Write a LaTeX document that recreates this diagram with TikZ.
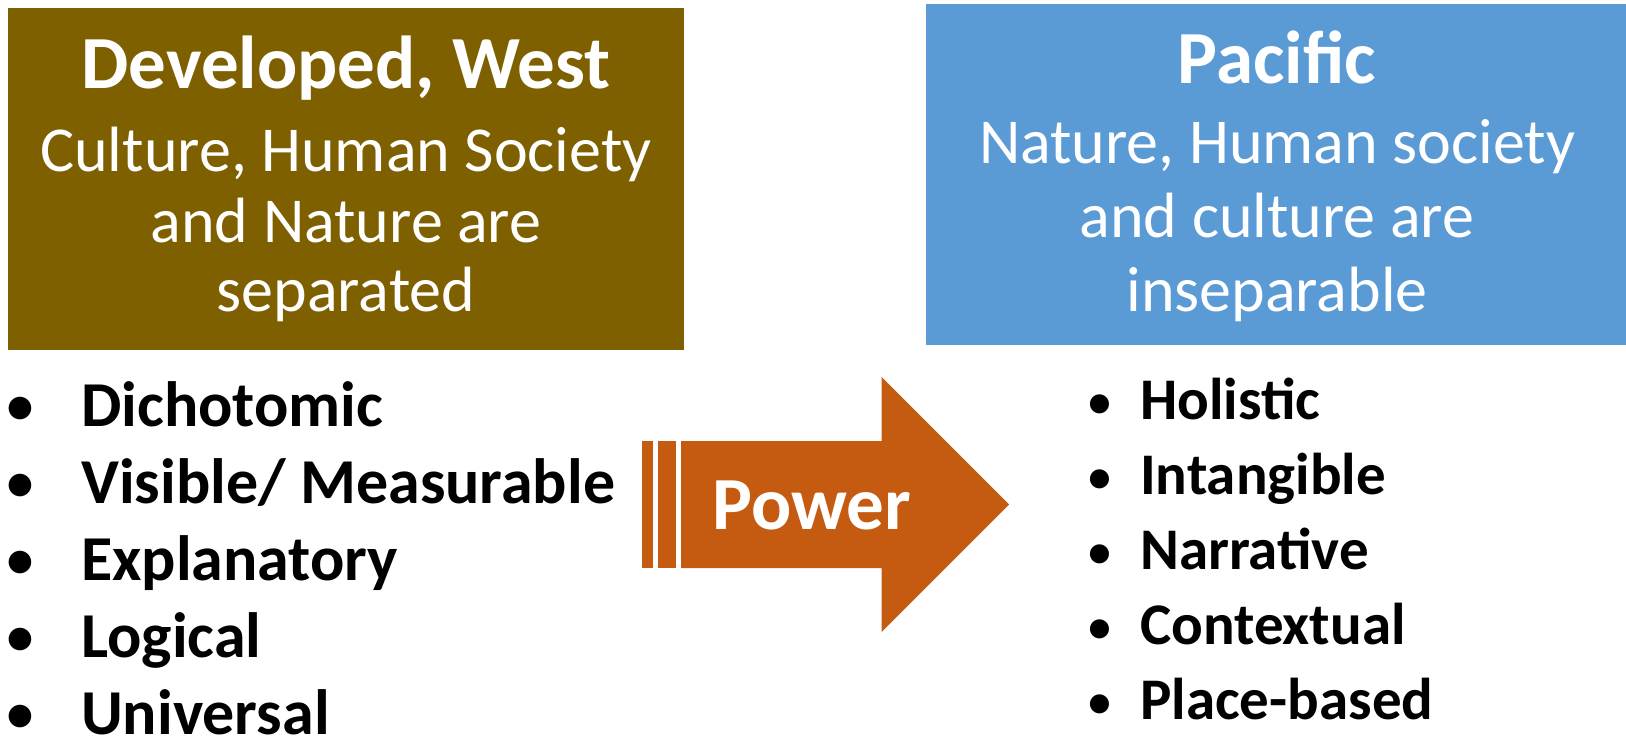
\documentclass[tikz,border=0pt]{standalone}
\usepackage{fontspec}
\setmainfont{Carlito}
\definecolor{brownbox}{HTML}{7F6000}
\definecolor{bluebox}{HTML}{5B9BD5}
\definecolor{arroworange}{HTML}{C55A11}
\tikzset{
  boxtitle/.style={anchor=base, inner sep=0pt, text=white, font=\fontsize{75}{86}\selectfont\bfseries},
  boxsub/.style={anchor=base, inner sep=0pt, text=white, font=\fontsize{64}{70}\selectfont},
  litem/.style={anchor=base west, inner sep=0pt, font=\fontsize{64}{76}\selectfont\bfseries},
  ritem/.style={anchor=base west, inner sep=0pt, font=\fontsize{59}{66}\selectfont\bfseries},
  lbul/.style={anchor=base, inner sep=0pt, font=\fontsize{64}{76}\selectfont},
  rbul/.style={anchor=base, inner sep=0pt, font=\fontsize{54}{66}\selectfont},
  panel/.style={anchor=north west, inner sep=0pt, draw=none},
}
\begin{document}
\begin{tikzpicture}[x=1pt,y=-1pt]
\useasboundingbox (0,0) rectangle (1626,739);
\fill[white] (0,0) rectangle (1626,739);
% boxes
\node[panel, fill=brownbox, minimum width=676pt, minimum height=342pt] (west) at (8,8) {};
\node[panel, fill=bluebox, minimum width=700pt, minimum height=341pt] (pacific) at (926,4) {};
% left box text
\node[boxtitle] (wt) at (346,88) {Developed, West};
\node[boxsub] (w1) at (346,171) {Culture, Human Society};
\node[boxsub] (w2) at (346,242) {and Nature are};
\node[boxsub] (w3) at (346,311) {separated};
% right box text
\node[boxtitle] (pt) at (1277,83) {Pacific};
\node[boxsub] (p1) at (1277,163) {Nature, Human society};
\node[boxsub] (p2) at (1277,237) {and culture are};
\node[boxsub] (p3) at (1277,311) {inseparable};
% arrow
\fill[arroworange] (642,441) rectangle (652.5,568);
\fill[arroworange] (657.5,441) rectangle (676,568);
\fill[arroworange] (681,441) -- (881.5,441) -- (881.5,377) -- (1009,504.5)
  -- (881.5,632) -- (881.5,568) -- (681,568) -- cycle;
\node[anchor=base, inner sep=0pt, text=white, font=\fontsize{75}{86}\selectfont\bfseries] (power) at (812,529) {Power};
% left list
\foreach \n/\t/\y in {l1/{Dichotomic}/426, l2/{Visible/ Measurable}/503, l3/{Explanatory}/580, l4/{Logical}/657, l5/{Universal}/734}{
  \node[lbul] (\n b) at (20,\y) {•};
  \node[litem] (\n) at (81,\y) {\t};
}
% right list
\foreach \n/\t/\y in {r1/{Holistic}/419, r2/{Intangible}/494, r3/{Narrative}/569, r4/{Contextual}/644, r5/{Place-based}/719}{
  \node[rbul] (\n b) at (1100,\y) {•};
  \node[ritem] (\n) at (1140,\y) {\t};
}
\end{tikzpicture}
\end{document}
